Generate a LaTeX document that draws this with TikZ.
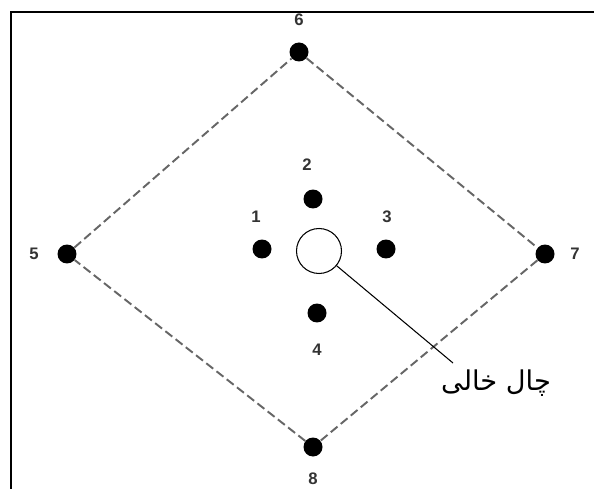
\documentclass[tikz,border=0pt]{standalone}
\usepackage{fontspec}
\setmainfont{Liberation Sans}
\newfontfamily\arabicfont[Script=Arabic]{DejaVu Sans}
\TeXXeTstate=1
\usetikzlibrary{positioning}

\begin{document}
\begin{tikzpicture}[x=0.02cm,y=-0.02cm,
  peg/.style={circle,fill=black,inner sep=0pt,minimum size=0.38cm},
  num/.style={font=\bfseries\fontsize{9.5}{11}\selectfont,text=black!80},
  rim/.style={draw=black!60,dashed,dash pattern=on 5pt off 2.4pt,line width=1.1pt}]

\useasboundingbox (0,0) rectangle (594,489);

% Frame (top and left side only)
\draw[line width=1.2pt] (594,12) -- (11,12) -- (11,489);

% Outer pegs
\node[peg] (p5) at (67,254) {};
\node[peg] (p6) at (299,52) {};
\node[peg] (p7) at (545,254) {};
\node[peg] (p8) at (313,447) {};

% Inner pegs
\node[peg] (p1) at (262,249) {};
\node[peg] (p2) at (313,199) {};
\node[peg] (p3) at (386,249) {};
\node[peg] (p4) at (317,313) {};

% Empty hole in the middle
\node[circle,draw,line width=0.6pt,minimum size=0.9cm,inner sep=0pt] (hole) at (319,251) {};

% Numbers
\node[num] (n1) at (256,217) {1};
\node[num] (n2) at (307,165) {2};
\node[num] (n3) at (387,217) {3};
\node[num] (n4) at (317,350) {4};
\node[num] (n5) at (34,254) {5};
\node[num] (n6) at (299,20) {6};
\node[num] (n7) at (575,254) {7};
\node[num] (n8) at (313,479) {8};

% Dashed diamond
\draw[rim] (p6) -- (p7);
\draw[rim] (p7) -- (p8);
\draw[rim] (p8) -- (p5);
\draw[rim] (p5) -- (p6);

% Pointer to the hole
\coordinate (tip) at (453,363);
\draw[line width=0.6pt] (hole) -- (tip);
\node[font=\arabicfont\fontsize{15.5}{18}\selectfont] (holetxt) at (496,383) {\beginR چال خالی\endR};

\end{tikzpicture}
\end{document}
